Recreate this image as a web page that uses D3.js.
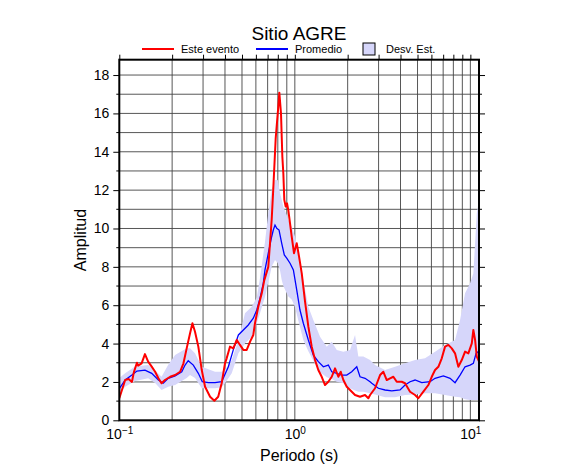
<!DOCTYPE html>
<html>
<head>
<meta charset="utf-8">
<script src="https://cdn.jsdelivr.net/npm/d3@7"></script>
<style>
  body { margin: 0; background: #fff; }
  svg text { font-family: "Liberation Sans", Arial, Helvetica, sans-serif; fill: #000; }
</style>
</head>
<body>
<svg id="chart"></svg>
<script>
// Este evento (red)
const redPeriod = [0.100,0.105,0.108,0.113,0.118,0.121,0.126,0.128,0.134,0.140,0.146,0.153,0.160,0.167,0.174,0.182,0.195,0.208,0.222,0.232,0.242,0.253,0.261,0.270,0.282,0.295,0.308,0.329,0.348,0.366,0.383,0.400,0.409,0.427,0.446,0.467,0.487,0.509,0.532,0.556,0.580,0.593,0.619,0.648,0.670,0.706,0.738,0.754,0.778,0.805,0.816,0.834,0.849,0.860,0.871,0.887,0.903,0.918,0.939,0.960,0.989,1.025,1.057,1.095,1.143,1.194,1.248,1.304,1.361,1.423,1.486,1.552,1.623,1.695,1.770,1.826,1.890,1.976,2.063,2.203,2.352,2.512,2.623,2.683,2.864,3.059,3.194,3.340,3.487,3.641,3.807,4.065,4.245,4.534,4.841,5.055,5.398,5.764,6.027,6.293,6.572,6.871,7.175,7.493,7.834,8.180,8.542,8.933,9.328,9.741,10.19,10.40,10.64,10.88,11.21];
const redAmp = [1.15,1.75,2.10,2.15,2.00,2.50,3.00,2.85,2.97,3.45,3.06,2.80,2.53,2.19,1.93,2.10,2.27,2.36,2.53,2.97,3.75,4.54,5.06,4.62,3.84,2.62,1.75,1.23,1.02,1.23,1.93,2.97,3.23,3.84,3.75,4.19,3.93,3.67,3.67,4.10,4.45,5.06,5.92,6.62,7.31,8.00,10.44,12.10,14.70,16.35,17.08,16.00,13.74,12.88,11.49,11.14,11.31,10.96,10.27,9.57,8.71,9.23,8.53,7.66,6.20,4.88,3.84,3.14,2.62,2.27,1.84,2.01,2.27,2.71,2.27,2.53,2.10,1.75,1.58,1.32,1.23,1.32,1.15,1.32,1.67,2.36,2.53,2.10,2.19,2.27,2.01,2.01,1.93,1.49,1.32,1.15,1.49,1.84,2.27,2.62,2.79,3.23,3.84,3.93,3.75,3.49,2.79,3.14,3.58,3.49,4.01,4.71,4.19,3.32,3.06];

// Promedio (blue)
const bluePeriod = [0.100,0.108,0.118,0.126,0.140,0.153,0.167,0.178,0.190,0.208,0.227,0.237,0.247,0.264,0.282,0.297,0.322,0.351,0.383,0.391,0.418,0.446,0.477,0.509,0.543,0.580,0.607,0.633,0.661,0.676,0.706,0.738,0.754,0.771,0.789,0.813,0.842,0.871,0.899,0.939,0.981,1.025,1.070,1.118,1.194,1.275,1.361,1.454,1.552,1.623,1.733,1.850,1.976,2.109,2.253,2.352,2.512,2.683,2.744,2.991,3.266,3.566,3.976,4.245,4.534,4.841,5.286,5.894,6.293,7.018,7.663,8.180,8.737,9.328,9.961,10.40,10.78,11.11];
const blueAmp = [1.65,2.10,2.36,2.57,2.62,2.45,2.10,1.93,2.19,2.31,2.53,2.88,3.11,2.88,2.45,2.01,1.96,1.96,2.01,2.19,2.79,3.67,4.45,4.71,4.97,5.32,5.75,6.36,7.14,7.84,8.71,9.57,9.92,10.18,10.01,9.92,9.23,8.62,8.45,8.19,7.84,6.80,5.75,5.06,4.19,3.40,3.06,2.79,2.88,2.53,2.45,2.36,2.36,2.53,2.79,2.27,2.19,2.01,1.93,1.67,1.58,1.53,1.58,1.84,2.01,2.10,1.96,2.01,2.19,2.31,2.19,1.96,2.36,2.79,2.88,2.97,3.49,3.58];

// Desv. Est. band
const bandPeriod = [0.100,0.108,0.123,0.146,0.160,0.174,0.190,0.208,0.242,0.253,0.270,0.295,0.351,0.383,0.400,0.437,0.477,0.520,0.568,0.607,0.633,0.676,0.706,0.738,0.771,0.799,0.824,0.842,0.860,0.899,0.918,0.960,1.003,1.047,1.118,1.194,1.275,1.392,1.520,1.623,1.733,1.890,2.063,2.203,2.300,2.457,2.683,2.864,3.266,3.724,4.245,4.841,5.519,6.293,7.175,8.180,8.737,9.328,9.961,10.40,10.64,10.88,11.21];
const bandLow = [1.41,1.75,2.05,2.19,1.95,1.58,1.75,1.84,2.20,2.36,2.20,1.67,1.67,1.72,1.93,2.45,3.49,4.01,4.36,5.06,5.58,6.44,7.20,8.00,8.36,8.20,7.80,7.31,7.00,6.62,6.45,6.30,5.90,5.20,4.19,3.60,3.10,2.50,2.25,2.15,2.01,1.93,1.67,1.55,1.49,1.49,1.41,1.35,1.20,1.20,1.32,1.35,1.41,1.41,1.32,1.23,1.20,1.10,1.06,1.06,1.06,1.06,1.06];
const bandHigh = [2.20,2.45,2.80,2.88,2.60,2.27,2.90,3.40,3.75,3.75,3.50,2.79,2.53,2.53,2.62,3.14,4.19,5.58,5.92,6.40,7.40,9.30,10.79,12.00,12.53,12.53,11.84,11.50,11.14,10.70,10.44,10.09,9.57,8.71,7.31,5.92,5.23,4.36,3.84,4.10,3.67,3.58,3.67,4.45,3.32,3.32,3.14,2.88,2.62,2.79,2.97,3.14,3.23,3.58,3.93,4.19,5.23,6.62,7.14,7.66,9.23,10.79,11.50];

// Axis ticks
const yTicks = [0, 2, 4, 6, 8, 10, 12, 14, 16, 18];
const xDecades = [0.1, 1, 10];
const xGrid = [0.2,0.3,0.4,0.5,0.6,0.7,0.8,0.9,1,2,3,4,5,6,7,8,9,10];

const width = 586, height = 475;
const margin = { top: 59.7, left: 119.3, right: 107, bottom: 54.7 };
const w = width - margin.left - margin.right;
const h = height - margin.top - margin.bottom;

const svg = d3.select("#chart").attr("width", width).attr("height", height);
const g = svg.append("g").attr("transform", `translate(${margin.left},${margin.top})`);

const x = d3.scaleLog().domain([0.1, 11.2]).range([0, w]);
const y = d3.scaleLinear().domain([0, 18.8]).range([h, 0]);

svg.append("defs").append("clipPath").attr("id", "clip")
  .append("rect").attr("width", w).attr("height", h);

// Grid
g.append("g").selectAll("line").data(xGrid).join("line")
  .attr("x1", d => x(d)).attr("x2", d => x(d))
  .attr("y1", 0).attr("y2", h)
  .attr("stroke", "#444").attr("stroke-width", 0.9);
g.append("g").selectAll("line").data(d3.range(1, 19)).join("line")
  .attr("x1", 0).attr("x2", w)
  .attr("y1", d => y(d)).attr("y2", d => y(d))
  .attr("stroke", "#444").attr("stroke-width", 0.9);

const plot = g.append("g").attr("clip-path", "url(#clip)");

// Band
const band = bandPeriod.map((p, i) => ({ p, lo: bandLow[i], hi: bandHigh[i] }));
plot.append("path").datum(band)
  .attr("fill", "#d6d6fa").attr("stroke", "none")
  .attr("d", d3.area().x(d => x(d.p)).y0(d => y(d.lo)).y1(d => y(d.hi)));

// Lines
const blue = bluePeriod.map((p, i) => [p, blueAmp[i]]);
plot.append("path").datum(blue)
  .attr("fill", "none").attr("stroke", "#0000ff").attr("stroke-width", 1.3)
  .attr("d", d3.line().x(d => x(d[0])).y(d => y(d[1])));

const red = redPeriod.map((p, i) => [p, redAmp[i]]);
plot.append("path").datum(red)
  .attr("fill", "none").attr("stroke", "#ff0000").attr("stroke-width", 2)
  .attr("stroke-linejoin", "round")
  .attr("d", d3.line().x(d => x(d[0])).y(d => y(d[1])));

// Y axes (left and right)
const yAxisL = d3.axisLeft(y).tickValues(yTicks).tickSize(6).tickPadding(4).tickFormat(d3.format("d"));
const yl = g.append("g").call(yAxisL);
yl.select(".domain").remove();
yl.selectAll("text").style("font-size", "14px");
g.append("g").selectAll("line").data(d3.range(1, 19, 2)).join("line")
  .attr("x1", -3).attr("x2", 0).attr("y1", d => y(d)).attr("y2", d => y(d)).attr("stroke", "#000");

g.append("g").attr("transform", `translate(${w},0)`)
  .call(d3.axisRight(y).tickValues(yTicks).tickSize(6).tickFormat(""))
  .select(".domain").remove();
g.append("g").selectAll("line").data(d3.range(1, 19, 2)).join("line")
  .attr("x1", w).attr("x2", w + 3).attr("y1", d => y(d)).attr("y2", d => y(d)).attr("stroke", "#000");

// X axis labels (bottom) with superscripts
const xb = g.append("g").attr("transform", `translate(0,${h})`)
  .call(d3.axisBottom(x).tickValues(xDecades).tickSize(0).tickPadding(9).tickFormat(""));
xb.select(".domain").remove();
xb.selectAll(".tick text").each(function(d) {
  const t = d3.select(this).style("font-size", "14px");
  t.append("tspan").text("10");
  t.append("tspan").attr("dy", "-0.5em").style("font-size", "10px")
    .text(Math.round(Math.log10(d)) < 0 ? "\u22121" : String(Math.round(Math.log10(d))));
});

// Top ticks
g.append("g").call(d3.axisTop(x).tickValues([0.1].concat(xGrid)).tickSize(5).tickFormat(""))
  .select(".domain").remove();

// Frame
g.append("rect").attr("width", w).attr("height", h)
  .attr("fill", "none").attr("stroke", "#000").attr("stroke-width", 2);

// Title and axis labels
svg.append("text").attr("x", 299).attr("y", 40).attr("text-anchor", "middle")
  .style("font-size", "19px").text("Sitio AGRE");
svg.append("text").attr("x", margin.left + w / 2).attr("y", 461).attr("text-anchor", "middle")
  .style("font-size", "16px").text("Periodo (s)");
svg.append("text").attr("transform", `translate(86,${margin.top + h / 2}) rotate(-90)`)
  .attr("text-anchor", "middle").style("font-size", "16px").text("Amplitud");

// Legend
const leg = svg.append("g");
leg.append("line").attr("x1", 142).attr("x2", 174).attr("y1", 49).attr("y2", 49)
  .attr("stroke", "#ff0000").attr("stroke-width", 2);
leg.append("text").attr("x", 181).attr("y", 52.5).style("font-size", "11px").text("Este evento");
leg.append("line").attr("x1", 256).attr("x2", 288).attr("y1", 49).attr("y2", 49)
  .attr("stroke", "#0000ff").attr("stroke-width", 2);
leg.append("text").attr("x", 295).attr("y", 52.5).style("font-size", "11px").text("Promedio");
leg.append("rect").attr("x", 363).attr("y", 43).attr("width", 12).attr("height", 12)
  .attr("fill", "#d6d6fa").attr("stroke", "#000").attr("stroke-width", 1);
leg.append("text").attr("x", 386).attr("y", 52.5).style("font-size", "11px").text("Desv. Est.");
</script>
</body>
</html>
